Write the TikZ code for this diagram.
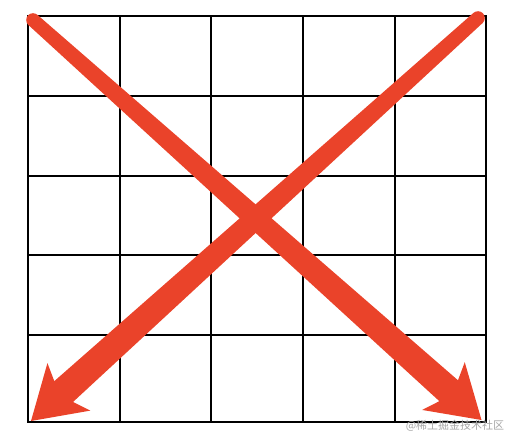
\documentclass[tikz,border=0pt]{standalone}
\usepackage{fontspec}
\newfontfamily\cjk{Noto Sans CJK SC}
\usepackage{xcolor}
\usepackage{tikz}
\usetikzlibrary{calc}
\definecolor{arrowred}{RGB}{234,67,42}

\begin{document}
\begin{tikzpicture}[x=1pt,y=-1pt,
      grid/.style={line width=2pt, black, line cap=rect},
      redfill/.style={fill=arrowred, draw=none}]

      \useasboundingbox (0,0) rectangle (516,444);

      \foreach \x in {28,120,211,303,395,486}
        \draw[grid] (\x,16) -- (\x,422);
      \foreach \y in {16,96,176,255,335,422}
        \draw[grid] (28,\y) -- (486,\y);

      \coordinate (s1) at (33,20);
      \coordinate (t1) at (481.5,420);
      \coordinate (s2) at (478,18);
      \coordinate (t2) at (31,421);

      \foreach \s/\t in {s1/t1, s2/t2} {
        \coordinate (\s-n) at ($(\t)!44pt!(\s)$);
        \coordinate (\s-b) at ($(\t)!51pt!(\s)$);
        \fill[redfill] ($(\s)!6.8pt!90:(\t)$) -- ($(\s-n)!14pt!90:(\t)$)
          -- ($(\s-b)!32pt!90:(\t)$) -- (\t) -- ($(\s-b)!32pt!-90:(\t)$)
          -- ($(\s-n)!14pt!-90:(\t)$) -- ($(\s)!6.8pt!-90:(\t)$) -- cycle;
        \fill[redfill] (\s) circle[radius=6.8pt];
      }

      \node[text=black!35, inner sep=0pt, font=\cjk\fontsize{11}{11}\selectfont] (mark) at (455,426) {@稀土掘金技术社区};

\end{tikzpicture}
\end{document}
